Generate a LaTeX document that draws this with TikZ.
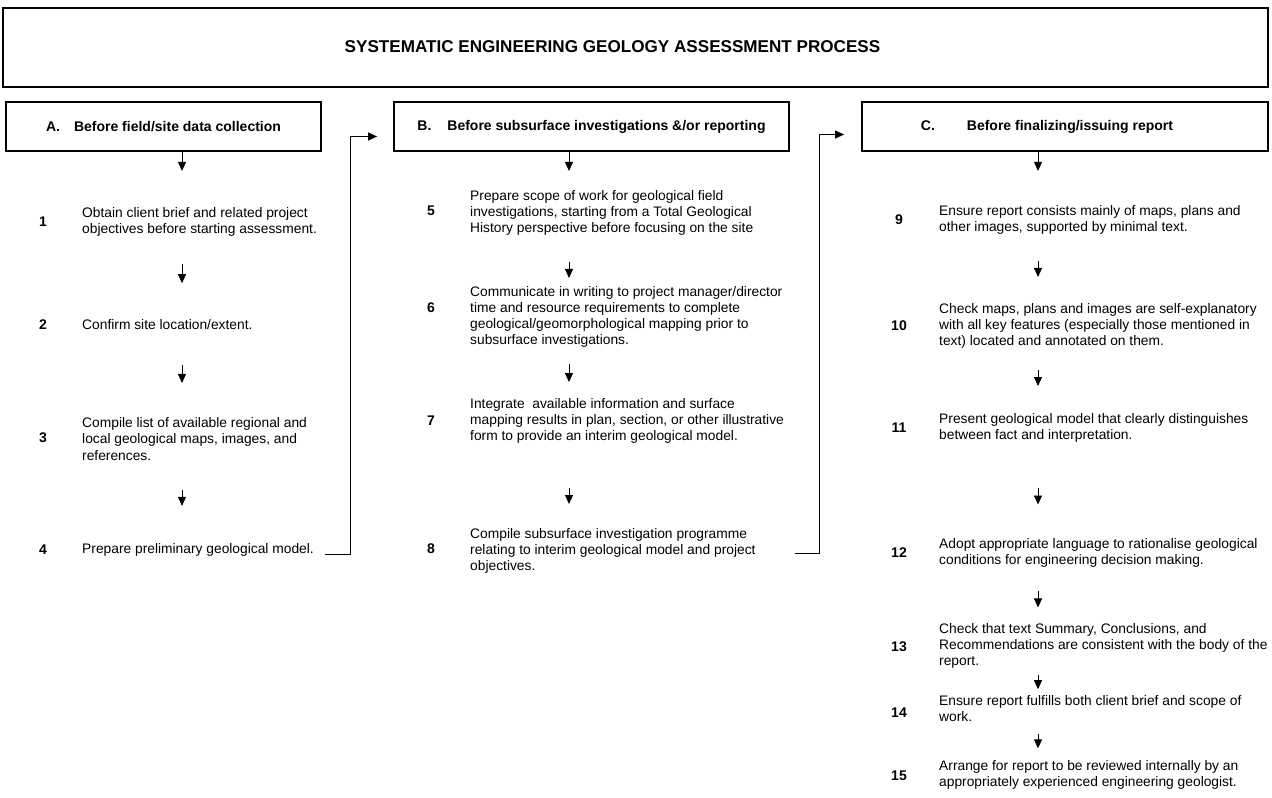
\documentclass[tikz,border=0pt]{standalone}
\usepackage{fontspec}
\setmainfont{Liberation Sans}
\usetikzlibrary{arrows.meta,calc}

\begin{document}
\begin{tikzpicture}[x=1pt,y=1pt]
\tikzstyle{every node}+=[inner sep=0pt]
\tikzstyle{hbox}=[draw, line width=1.8pt, minimum height=49pt, font=\bfseries\fontsize{14}{16}\selectfont]
\tikzstyle{stepnum}=[font=\bfseries\fontsize{14}{16}\selectfont]
\tikzstyle{steptext}=[anchor=west, align=left, font=\fontsize{13.8}{16.1}\selectfont]
\tikzstyle{flow}=[line width=0.9pt, -{Triangle[length=9pt,width=8pt]}]
\useasboundingbox (0,0) rectangle (1272,-798);
% title
\node [draw, line width=2.4pt, minimum width=1265pt, minimum height=79pt] (title) at (635.5,-47.5) {};
\node [font=\bfseries\fontsize{17.1}{19}\selectfont] (titletext) at (612.5,-47) {SYSTEMATIC ENGINEERING GEOLOGY ASSESSMENT PROCESS};
% stage headers
\node [hbox, minimum width=315pt] (hA) at (163.5,-126.5) {\makebox[28pt][l]{A.}Before field/site data collection};
\node [hbox, minimum width=395pt] (hB) at (591.5,-126.5) {\makebox[30pt][l]{B.}Before subsurface investigations \&/or reporting};
\node [hbox, minimum width=406pt] (hC) at (1065,-126.5) {\makebox[46pt][l]{C.}Before finalizing/issuing report\hspace*{36pt}};
\coordinate (ax) at (182,0);
\coordinate (bx) at (569,0);
\coordinate (cx) at (1038,0);
% column A
\node [stepnum] (n1) at (43,-222) {1};
\node [steptext] (s1) at (82,-222) {Obtain client brief and related project\\objectives before starting assessment.};
\node [stepnum] (n2) at (43,-325) {2};
\node [steptext] (s2) at (82,-325) {Confirm site location/extent.};
\node [stepnum] (n3) at (43,-438) {3};
\node [steptext] (s3) at (82,-439) {Compile list of available regional and\\local geological maps, images, and\\references.};
\node [stepnum] (n4) at (43,-550) {4};
\node [steptext] (s4) at (82,-550) {Prepare preliminary geological model.};
% column B
\node [stepnum] (n5) at (431,-211) {5};
\node [steptext] (s5) at (470,-213) {Prepare scope of work for geological field\\investigations, starting from a Total Geological\\History perspective before focusing on the site};
\node [stepnum] (n6) at (431,-308) {6};
\node [steptext] (s6) at (470,-317) {Communicate in writing to project manager/director\\time and resource requirements to complete\\geological/geomorphological mapping prior to\\subsurface investigations.};
\node [stepnum] (n7) at (431,-421) {7};
\node [steptext] (s7) at (470,-421) {Integrate\ \ available information and surface\\mapping results in plan, section, or other illustrative\\form to provide an interim geological model.};
\node [stepnum] (n8) at (431,-549) {8};
\node [steptext] (s8) at (470,-551) {Compile subsurface investigation programme\\relating to interim geological model and project\\objectives.};
% column C
\node [stepnum] (n9) at (899,-220) {9};
\node [steptext] (s9) at (939,-220) {Ensure report consists mainly of maps, plans and\\other images, supported by minimal text.};
\node [stepnum] (n10) at (899,-326) {10};
\node [steptext] (s10) at (939,-326) {Check maps, plans and images are self-explanatory\\with all key features (especially those mentioned in\\text) located and annotated on them.};
\node [stepnum] (n11) at (899,-428) {11};
\node [steptext] (s11) at (939,-428) {Present geological model that clearly distinguishes\\between fact and interpretation.};
\node [stepnum] (n12) at (899,-553) {12};
\node [steptext] (s12) at (939,-553) {Adopt appropriate language to rationalise geological\\conditions for engineering decision making.};
\node [stepnum] (n13) at (899,-647) {13};
\node [steptext] (s13) at (939,-646) {Check that text Summary, Conclusions, and\\Recommendations are consistent with the body of the\\report.};
\node [stepnum] (n14) at (899,-713) {14};
\node [steptext] (s14) at (939,-709) {Ensure report fulfills both client brief and scope of\\work.};
\node [stepnum] (n15) at (899,-776) {15};
\node [steptext] (s15) at (939,-775) {Arrange for report to be reviewed internally by an\\appropriately experienced engineering geologist.};
% arrows down each column
\draw [flow] (hA.south -| ax) -- ++(0,-19);
\draw [flow] ($(s1.south -| ax)!.5!(s2.north -| ax)$) ++(0,14) -- ++(0,-19);
\draw [flow] ($(s2.south -| ax)!.5!(s3.north -| ax)$) ++(0,9) -- ++(0,-18);
\draw [flow] ($(s3.south -| ax)!.5!(s4.north -| ax)$) ++(0,12) -- ++(0,-16);
\draw [flow] (hB.south -| bx) -- ++(0,-19);
\draw [flow] ($(s5.south -| bx)!.5!(s6.north -| bx)$) ++(0,-1) -- ++(0,-16);
\draw [flow] ($(s6.south -| bx)!.5!(s7.north -| bx)$) ++(0,9) -- ++(0,-18);
\draw [flow] ($(s7.south -| bx)!.5!(s8.north -| bx)$) ++(0,-2) -- ++(0,-16);
\draw [flow] (hC.south -| cx) -- ++(0,-19);
\draw [flow] ($(s9.south -| cx)!.5!(s10.north -| cx)$) ++(0,8) -- ++(0,-16);
\draw [flow] ($(s10.south -| cx)!.5!(s11.north -| cx)$) ++(0,11) -- ++(0,-16);
\draw [flow] ($(s11.south -| cx)!.5!(s12.north -| cx)$) ++(0,3) -- ++(0,-17);
\draw [flow] ($(s12.south -| cx)!.5!(s13.north -| cx)$) ++(0,4) -- ++(0,-16);
\draw [flow] ($(s13.south -| cx)!.5!(s14.north -| cx)$) ++(0,7) -- ++(0,-14);
\draw [flow] ($(s14.south -| cx)!.5!(s15.north -| cx)$) ++(0,7) -- ++(0,-14);
% links to the next stage
\draw [flow] ([xshift=11,yshift=-4]s4.east) -- ++(25,0) |- ([xshift=-16,yshift=-10]hB.west);
\draw [flow] ([xshift=39,yshift=-2]s8.east) -- ++(25,0) |- ([xshift=-17,yshift=-8]hC.west);
\end{tikzpicture}
\end{document}
